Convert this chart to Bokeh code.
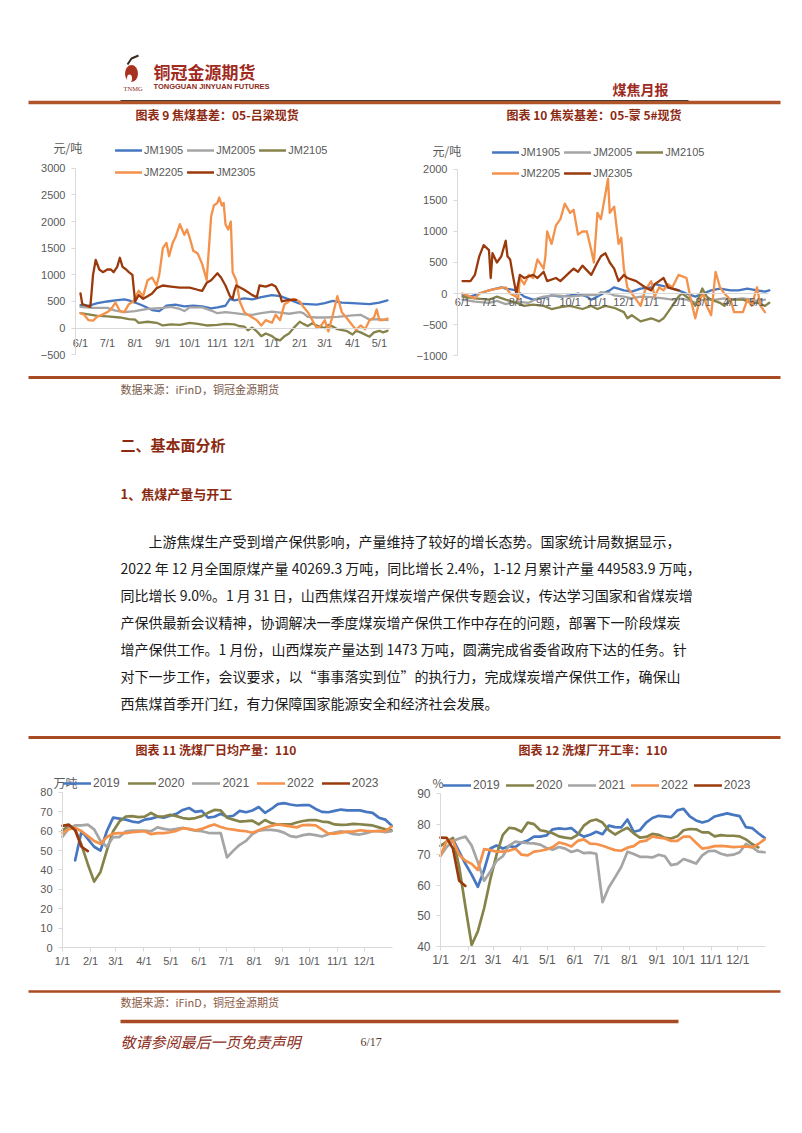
from bokeh.plotting import figure
from bokeh.layouts import column, row
from bokeh.models import Range1d, FixedTicker, Legend, LegendItem, Label, ColumnDataSource
from bokeh.embed import file_html
from bokeh.resources import INLINE

CJK = "Noto Sans CJK SC"
LAT = "Liberation Sans"
SERIF = "Liberation Serif"

# ------------------------------------------------------------------ data
# top charts: x axis runs 6/1 .. mid May (season of the 05 contract)
TOP_TICK_LABELS = ["6/1", "7/1", "8/1", "9/1", "10/1", "11/1", "12/1", "1/1", "2/1", "3/1", "4/1", "5/1"]
TOP_SERIES = ["JM1905", "JM2005", "JM2105", "JM2205", "JM2305"]

# 图表 9 焦煤基差：05-吕梁现货
C9_JM1905_D = ["6/1", "6/10", "6/20", "7/1", "7/10", "7/20", "7/25", "8/1", "8/10", "8/20", "8/28", "9/5", "9/15", "9/25", "10/5", "10/15", "10/25", "11/1", "11/10", "11/15", "11/20", "12/1", "12/10", "12/20", "1/1", "1/10", "1/20", "2/1", "2/10", "2/20", "3/1", "3/10", "3/20", "4/1", "4/10", "4/20", "5/1", "5/10"]
C9_JM1905_V = [430, 420, 470, 500, 520, 540, 520, 480, 420, 340, 320, 420, 440, 410, 420, 410, 370, 390, 420, 550, 520, 560, 540, 580, 620, 600, 540, 460, 450, 440, 470, 510, 480, 470, 460, 450, 480, 520]
C9_JM2005_D = ["6/1", "6/15", "7/1", "7/10", "7/20", "8/1", "8/15", "9/1", "9/10", "9/20", "9/25", "10/1", "10/15", "10/25", "11/1", "11/10", "11/20", "12/1", "12/10", "12/20", "1/1", "1/10", "1/20", "2/1", "2/5", "2/10", "2/20", "3/1", "3/15", "4/1", "4/10", "4/20", "5/1", "5/10"]
C9_JM2005_V = [400, 380, 380, 330, 300, 320, 360, 380, 400, 360, 320, 390, 390, 330, 280, 300, 280, 260, 250, 280, 310, 290, 270, 300, 280, 210, 200, 200, 210, 240, 250, 160, 170, 150]
C9_JM2105_D = ["6/1", "6/10", "6/20", "7/1", "7/15", "7/25", "8/1", "8/5", "8/15", "8/25", "9/1", "9/10", "9/20", "10/1", "10/10", "10/20", "11/1", "11/10", "11/20", "11/25", "12/1", "12/5", "12/10", "12/15", "12/20", "12/25", "1/1", "1/5", "1/10", "1/15", "1/20", "1/25", "2/1", "2/5", "2/10", "2/15", "2/20", "3/1", "3/5", "3/10", "3/15", "3/25", "4/1", "4/5", "4/10", "4/20", "4/25", "5/1", "5/5", "5/10"]
C9_JM2105_V = [280, 260, 230, 220, 200, 170, 160, 100, 120, 100, 50, 70, 60, 100, 80, 50, 60, 80, 70, 40, 30, -40, 10, -60, -150, -100, -150, -200, -230, -150, -100, 0, 120, 80, 40, 90, 50, 0, 60, 30, -20, -50, -120, -50, -80, -160, -80, -50, -80, -50]
C9_JM2205_D = ["6/1", "6/5", "6/10", "6/15", "6/20", "6/25", "7/1", "7/5", "7/10", "7/15", "7/20", "7/25", "7/30", "8/5", "8/10", "8/15", "8/20", "8/25", "8/28", "9/1", "9/5", "9/8", "9/12", "9/15", "9/20", "9/25", "9/28", "10/1", "10/5", "10/10", "10/15", "10/20", "10/25", "10/28", "11/1", "11/3", "11/6", "11/8", "11/10", "11/13", "11/16", "11/18", "11/22", "11/26", "12/1", "12/5", "12/10", "12/15", "12/20", "12/25", "1/1", "1/5", "1/10", "1/15", "1/20", "1/25", "2/1", "2/5", "2/10", "2/15", "2/20", "2/25", "3/1", "3/5", "3/10", "3/15", "3/20", "3/25", "4/1", "4/5", "4/10", "4/15", "4/20", "4/25", "4/28", "5/1", "5/5", "5/10"]
C9_JM2205_V = [280, 250, 150, 140, 220, 250, 300, 350, 480, 320, 300, 450, 500, 700, 600, 900, 950, 800, 1000, 1500, 1600, 1350, 1600, 1700, 1950, 1750, 1850, 1700, 1450, 1400, 1200, 900, 2100, 2300, 2350, 2450, 2300, 2350, 1950, 1850, 2000, 1050, 900, 500, 300, 250, 200, 150, 50, 150, 100, 250, 150, 450, 500, 550, 500, 400, 300, 150, 0, 50, 150, -60, 250, 600, 300, 200, 50, -30, 50, -20, 150, 200, 350, 150, 150, 180]
C9_JM2305_D = ["6/1", "6/3", "6/8", "6/12", "6/15", "6/18", "6/22", "6/26", "7/1", "7/5", "7/8", "7/12", "7/15", "7/18", "7/22", "7/25", "7/29", "8/1", "8/5", "8/10", "8/15", "8/20", "8/25", "9/1", "9/10", "9/20", "10/1", "10/10", "10/15", "10/20", "10/25", "11/1", "11/5", "11/10", "11/15", "11/18", "11/20", "11/22", "12/1", "12/10", "12/15", "12/18", "12/25", "1/1", "1/5", "1/10", "1/12", "1/20", "1/28"]
C9_JM2305_V = [650, 450, 420, 400, 1000, 1280, 1100, 1050, 1100, 1100, 1050, 1150, 1320, 1150, 1100, 1050, 1000, 500, 620, 550, 600, 650, 750, 800, 780, 760, 760, 720, 700, 850, 900, 1030, 950, 800, 600, 550, 700, 800, 720, 620, 580, 800, 780, 820, 780, 620, 500, 530, 530]

# 图表 10 焦炭基差：05-蒙 5#现货
C10_JM1905_D = ["6/1", "6/10", "6/20", "7/1", "7/15", "7/20", "8/1", "8/10", "8/20", "9/1", "9/10", "9/20", "10/1", "10/10", "10/20", "10/25", "11/1", "11/10", "11/15", "11/20", "12/1", "12/10", "12/20", "1/1", "1/5", "1/15", "1/25", "2/1", "2/10", "2/20", "3/1", "3/10", "3/20", "4/1", "4/10", "4/20", "5/1", "5/10", "5/15"]
C10_JM1905_V = [-20, -50, 0, 50, 100, 80, 50, -50, -100, -70, -30, -50, -30, 0, -50, -100, -50, 20, 50, 100, 50, 30, 80, 100, 150, 120, 80, 50, 0, -50, 0, 50, 80, 50, 50, 80, 50, 30, 50]
C10_JM2005_D = ["6/1", "6/15", "7/1", "7/10", "7/20", "8/1", "8/15", "8/25", "9/1", "9/15", "10/1", "10/15", "11/1", "11/5", "11/15", "11/20", "12/1", "12/10", "12/20", "1/1", "1/15", "1/25", "2/1", "2/10", "2/20", "3/1", "3/15", "3/25", "4/1", "4/15", "4/25", "5/1", "5/10"]
C10_JM2005_V = [-100, -130, -150, -120, -170, -130, -150, -80, -50, -30, -50, -30, -20, 20, 0, -30, -50, -80, -50, -60, -80, -100, -80, -100, -150, -100, -100, -80, -100, -80, -100, -120, -100]
C10_JM2105_D = ["6/1", "6/15", "7/1", "7/10", "7/20", "8/1", "8/10", "8/20", "9/1", "9/10", "9/20", "10/1", "10/15", "10/25", "11/1", "11/10", "11/20", "12/1", "12/5", "12/10", "12/20", "1/1", "1/10", "1/15", "1/20", "1/25", "2/1", "2/5", "2/15", "2/20", "2/28", "3/5", "3/10", "3/20", "3/25", "4/1", "4/15", "4/25", "5/1", "5/10", "5/15"]
C10_JM2105_V = [-50, -80, -100, -50, -100, -150, -200, -180, -200, -250, -220, -200, -250, -200, -250, -200, -230, -300, -400, -350, -450, -400, -450, -400, -300, -200, -50, 0, -100, -200, 80, -50, -100, -150, -200, -100, -100, -150, -150, -200, -150]
C10_JM2205_D = ["6/1", "6/10", "6/15", "6/20", "7/1", "7/10", "7/20", "7/25", "8/1", "8/3", "8/5", "8/10", "8/15", "8/20", "8/25", "9/1", "9/3", "9/5", "9/10", "9/15", "9/20", "9/25", "10/1", "10/5", "10/10", "10/15", "10/20", "10/25", "10/28", "11/1", "11/5", "11/10", "11/13", "11/15", "11/20", "11/25", "11/28", "12/1", "12/5", "12/10", "12/15", "12/20", "12/25", "1/1", "1/5", "1/10", "1/15", "1/20", "1/25", "2/1", "2/10", "2/15", "2/20", "2/25", "3/1", "3/5", "3/10", "3/15", "3/20", "3/25", "4/1", "4/5", "4/15", "4/20", "4/25", "5/1", "5/5", "5/10"]
C10_JM2205_V = [0, -50, -80, 0, 50, 80, 100, 0, -50, -100, 250, 150, 300, 250, 550, 400, 600, 1000, 800, 1100, 1200, 1450, 1300, 1350, 950, 1000, 1000, 700, 500, 1300, 1200, 1600, 1850, 1300, 1400, 800, 900, 400, 100, 0, -100, -200, 50, 200, -50, 100, 50, 150, 100, 300, 250, -100, -400, -100, 0, -200, -350, 350, 100, 0, -100, -300, -300, -100, -200, 100, -200, -300]
C10_JM2305_D = ["6/1", "6/10", "6/15", "6/20", "6/25", "7/1", "7/3", "7/5", "7/10", "7/15", "7/20", "7/22", "7/25", "7/28", "8/1", "8/5", "8/10", "8/20", "8/25", "9/1", "9/5", "9/15", "9/20", "10/1", "10/5", "10/10", "10/15", "10/25", "11/1", "11/5", "11/10", "11/15", "11/20", "11/25", "12/1", "12/5", "12/15", "12/25", "1/1", "1/5", "1/10", "1/15", "1/20", "1/25", "2/1"]
C10_JM2305_V = [200, 200, 300, 600, 780, 700, 250, 650, 500, 600, 850, 600, 550, 300, 0, 300, 250, 300, 250, 350, 200, 250, 200, 350, 400, 350, 450, 300, 500, 600, 650, 500, 400, 200, 300, 250, 200, 100, 50, 150, 200, 250, 100, 80, 50]

# bottom charts: weekly values, week 1 .. week 53 of each year
YEAR_TICK_LABELS = ["1/1", "2/1", "3/1", "4/1", "5/1", "6/1", "7/1", "8/1", "9/1", "10/1", "11/1", "12/1"]
YEARS = ["2019", "2020", "2021", "2022", "2023"]
N = None

# 图表 11 洗煤厂日均产量：110 (万吨)
C11_2019 = [N, N, 45, 60, 56, 52, 50, 60, 67, 66.5, 66, 65, 64.5, 66, 66.5, 67.5, 67, 68, 69, 71, 72, 70, 70.5, 67, 67.5, 69, 67.5, 68, 70.5, 69.8, 70.7, 72.5, 69.5, 71.5, 74, 74.5, 73.8, 73.3, 73.5, 73.5, 71.5, 70, 69.8, 70.5, 71.2, 70.8, 70.8, 70.8, 70, 69.5, 67, 66, 63]
C11_2020 = [60.3, 63, 61, 53, 43, 34, 39, 50, 60, 65, 67.6, 67.8, 67.3, 67.5, 69.5, 67.6, 67.6, 68.5, 67.8, 66.8, 66.4, 66.8, 67.8, 69.5, 71, 70.8, 67, 66, 65, 65.2, 65.5, 63.5, 65.8, 64.2, 63.5, 63.5, 63.5, 64.5, 65.3, 65.7, 65.8, 65, 64.7, 63.5, 63.3, 63.4, 63.8, 63.6, 63.3, 63, 62, 61, 60.5]
C11_2021 = [57.2, 61.5, 63, 63, 63.4, 61, 55, 52, 57, 57, 60, 60.3, 60.3, 60.3, 60, 62, 61.2, 60.7, 61.2, 61.8, 61, 60.3, 60, 59.2, 59, 59, 46.5, 50, 53, 55, 58.5, 60.3, 60.7, 60.7, 60.3, 59.3, 57.5, 57, 58, 58.5, 58, 57.3, 58.5, 59.3, 60, 59.5, 58.5, 58.3, 59, 60, 60, 59.5, 60]
C11_2022 = [59, 61, 61.8, 60, 57.5, 55, 53.5, 57, 58.8, 59, 59, 59.5, 59.8, 60, 58.5, 59, 59, 59.5, 60.2, 61.5, 61.2, 60.5, 61.2, 62.5, 63.5, 62.2, 61.3, 60.8, 60.3, 60, 59.2, 60.5, 61.8, 62.8, 63.6, 63, 62.5, 62, 63.2, 63.3, 63, 61, 58.8, 58.8, 59.3, 59.8, 59.8, 60.5, 60.2, 60, 60.2, 60, 62.4]
C11_2023 = [62.8, 63.4, 60.5, 52, 49.8] + [N] * 48

# 图表 12 洗煤厂开工率：110 (%)
C12_2019 = [N, N, 75, 71, 67, 63.5, 59.5, 65, 72, 73, 72, 72.8, 72.5, 74, 74.6, 75.9, 75.9, 76.3, 78.3, 78.6, 78.4, 78.7, 77, 75.9, 76.5, 77.5, 76.7, 79.5, 79, 78.9, 81.5, 77.5, 78, 80.5, 82, 82.7, 82.5, 82.3, 84.5, 85, 82.5, 81.2, 80.5, 81.1, 82.5, 83, 83.5, 83, 82.6, 79, 78.7, 77, 75.5]
C12_2020 = [72.9, 74.3, 75.5, 66, 53, 40.5, 45, 52.5, 62, 70, 76.5, 78.8, 78.5, 77.5, 80.5, 80, 78, 77.6, 77, 76, 75.6, 75.3, 76.5, 79.5, 81, 81.5, 80.5, 78, 76.6, 77.8, 78.8, 77, 75.6, 75.8, 76.8, 76.5, 75.5, 75.3, 76, 78, 78.4, 78.3, 77.3, 77.3, 76, 76.4, 76.2, 76.2, 76, 75, 73.5, 72.4, N]
C12_2021 = [69.7, 72.5, 74.5, 75.3, 75.9, 73, 67.5, 61.5, 64.5, 68, 69.5, 73, 74.3, 74, 73.8, 73.7, 73.3, 72.2, 71.6, 72.5, 72, 70.9, 71.5, 70.5, 70.7, 70.3, 54.5, 59.3, 62.6, 66, 71, 70.2, 69.3, 69.3, 69.1, 70, 69.5, 66.6, 67, 68.6, 67.9, 67.1, 69.8, 71.2, 71.3, 70.3, 69.8, 70, 70.8, 73.5, 72.5, 71, 70.8]
C12_2022 = [69.7, 74.5, 74.5, 70, 68, 67, 65, 71.8, 71.5, 71, 71, 71.3, 72, 70, 69.8, 71, 71.3, 71.7, 72.5, 74, 73.5, 72.7, 74.5, 75, 73.6, 73.5, 72.9, 72.2, 71.5, 71.3, 72.3, 72.8, 74.3, 74.6, 76, 75.6, 75.3, 74.5, 74.5, 75.9, 75.9, 73.9, 72, 72.3, 72.8, 72.9, 72.7, 72.5, 72.6, 72.7, 72.4, 73.5, 75]
C12_2023 = [75.6, 75.5, 72, 61.5, 59.8] + [N] * 48

# ------------------------------------------------------------------ styles
BLUE, GRAY, OLIVE, ORANGE, BROWN = "#4677C0", "#A5A5A5", "#86834A", "#F4914A", "#9A3A0C"
TOP_COLORS = [BLUE, GRAY, OLIVE, ORANGE, BROWN]
YEAR_COLORS = [BLUE, OLIVE, GRAY, ORANGE, BROWN]
AX_COLOR = "#D9D9D9"
LBL_COLOR = "#595959"
RED = "#8E2A12"
RULE = "#B0552A"

TOP_OFFSET = {6: 0, 7: 30, 8: 61, 9: 92, 10: 122, 11: 153, 12: 183, 1: 214, 2: 245, 3: 273, 4: 304, 5: 334}
YEAR_OFFSET = {1: 0, 2: 31, 3: 59, 4: 90, 5: 120, 6: 151, 7: 181, 8: 212, 9: 243, 10: 273, 11: 304, 12: 334}


def top_day(s):
    m, d = s.split("/")
    return TOP_OFFSET[int(m)] + int(d) - 1


def year_day(s):
    m, d = s.split("/")
    return YEAR_OFFSET[int(m)] + int(d) - 1


def nanify(vals):
    return [float("nan") if v is None else v for v in vals]


def base_fig(w, h, xr, yr):
    # the frame fills the whole figure; axes are pinned inside it with fixed_location
    p = figure(width=w, height=h, x_range=Range1d(*xr), y_range=Range1d(*yr),
               output_backend="svg", toolbar_location=None, title=None, min_border=0,
               outline_line_color=None, background_fill_color="white", border_fill_color="white")
    p.grid.visible = False
    return p


def style_axes(p, xticks, xlabels, yticks, font_size, x_tick_out, x_standoff, x_at, y_at, x_bounds, y_bounds):
    p.xaxis.ticker = FixedTicker(ticks=xticks)
    p.xaxis.major_label_overrides = {t: l for t, l in zip(xticks, xlabels)}
    p.yaxis.ticker = FixedTicker(ticks=yticks)
    for ax in (p.xaxis[0], p.yaxis[0]):
        ax.axis_line_color = AX_COLOR
        ax.major_tick_line_color = AX_COLOR
        ax.minor_tick_line_color = None
        ax.major_tick_in = 0
        ax.major_label_text_font = LAT
        ax.major_label_text_font_size = font_size
        ax.major_label_text_color = LBL_COLOR
    p.yaxis.major_tick_out = 4
    p.yaxis.major_label_standoff = 6
    p.xaxis.major_tick_out = x_tick_out
    p.xaxis.major_label_standoff = x_standoff
    p.xaxis.fixed_location = x_at
    p.yaxis.fixed_location = y_at
    p.xaxis.bounds = x_bounds
    p.yaxis.bounds = y_bounds


def legend(p, items, loc, font_size, glyph_width, spacing):
    # loc = bottom-left corner of the legend box, in px from the frame's bottom-left
    lg = Legend(items=items, location=loc, orientation="horizontal",
                glyph_width=glyph_width, glyph_height=14, label_height=14,
                label_standoff=2, spacing=spacing, padding=0, margin=0,
                border_line_alpha=0, background_fill_alpha=0,
                label_text_font=LAT, label_text_font_size=font_size,
                label_text_color=LBL_COLOR)
    p.add_layout(lg)


def unit_label(p, text, x, y):
    p.add_layout(Label(x=x, y=y, text=text,
                       text_font=CJK, text_font_size="12px", text_color=LBL_COLOR,
                       text_baseline="middle"))


def basis_chart(xr, yr, yticks, x_bounds, y_bounds, dates, vals, leg_rows, unit_xy, x_standoff):
    p = base_fig(401, 230, xr, yr)
    renderers = []
    for name, d, v, c in zip(TOP_SERIES, dates, vals, TOP_COLORS):
        src = ColumnDataSource(dict(x=[top_day(s) for s in d], y=v))
        r = p.line("x", "y", source=src, line_color=c, line_width=2.3,
                   line_join="round", line_cap="round")
        renderers.append((name, r))
    style_axes(p, [top_day(s) for s in TOP_TICK_LABELS], TOP_TICK_LABELS, yticks, "11px", 0, x_standoff,
               0, x_bounds[0], x_bounds, y_bounds)
    items = [LegendItem(label=n, renderers=[r]) for n, r in renderers]
    legend(p, items[:3], leg_rows[0], "11px", 27, 4)
    legend(p, items[3:], leg_rows[1], "11px", 27, 4)
    unit_label(p, "元/吨", *unit_xy)
    return p


def season_chart(xr, yr, yticks, y_bounds, series, leg_loc, unit, unit_xy, font_size, spacing):
    p = base_fig(401, 205, xr, yr)
    items = []
    for name, v, c in zip(YEARS, series, YEAR_COLORS):
        src = ColumnDataSource(dict(x=[7 * i for i in range(len(v))], y=nanify(v)))
        r = p.line("x", "y", source=src, line_color=c, line_width=2.7,
                   line_join="round", line_cap="round")
        items.append(LegendItem(label=name, renderers=[r]))
    style_axes(p, [year_day(s) for s in YEAR_TICK_LABELS], YEAR_TICK_LABELS, yticks, font_size, 4, 3,
               y_bounds[0], 0, (0, 365), y_bounds)
    legend(p, items, leg_loc, "12px", 28, spacing)
    unit_label(p, unit, *unit_xy)
    return p


c9 = basis_chart((-89.4, 358.7), (-794.5, 3519.6), [-500, 0, 500, 1000, 1500, 2000, 2500, 3000],
                 (-5.6, 346.4), (-500, 3000),
                 [C9_JM1905_D, C9_JM2005_D, C9_JM2105_D, C9_JM2205_D, C9_JM2305_D],
                 [C9_JM1905_V, C9_JM2005_V, C9_JM2105_V, C9_JM2205_V, C9_JM2305_V],
                 [(115, 213), (115, 191)], (-30.2, 3388), 9)
c10 = basis_chart((-69.2, 385.6), (-1241.9, 2467.7), [-1000, -500, 0, 500, 1000, 1500, 2000],
                  (-5.7, 347), (-1000, 2000),
                  [C10_JM1905_D, C10_JM2005_D, C10_JM2105_D, C10_JM2205_D, C10_JM2305_D],
                  [C10_JM1905_V, C10_JM2005_V, C10_JM2105_V, C10_JM2205_V, C10_JM2305_V],
                  [(91, 211), (91, 190)], (-34, 2306), 2)
c11 = season_chart((-68.6, 375), (-14.45, 91.35), [0, 10, 20, 30, 40, 50, 60, 70, 80], (0, 80),
                   [C11_2019, C11_2020, C11_2021, C11_2022, C11_2023],
                   (63, 185), "万吨", (-10, 85.2), "11px", 8)
c12 = season_chart((-43.8, 406.6), (30.52, 97.52), [40, 50, 60, 70, 80, 90], (40, 90),
                   [C12_2019, C12_2020, C12_2021, C12_2022, C12_2023],
                   (42, 183), "%", (-9, 93.6), "12px", 6)


# ------------------------------------------------------------------ page bands
def band(h):
    p = figure(width=802, height=h, x_range=Range1d(0, 802), y_range=Range1d(h, 0),
               output_backend="svg", toolbar_location=None, min_border=0,
               x_axis_type=None, y_axis_type=None, outline_line_color=None,
               border_fill_color="white", background_fill_color="white")
    return p


def txt(p, top, x, y, text, size, color, font=CJK, style="normal"):
    p.add_layout(Label(x=x, y=y - top, text=text, text_font=font,
                       text_font_size=f"{size}px", text_color=color,
                       text_font_style=style, text_baseline="middle"))


def rule(p, top, x0, x1, y, width, color):
    p.segment(x0=[x0], y0=[y - top], x1=[x1], y1=[y - top], line_width=width, line_color=color)


# header band (page y 0..140)
hA = band(140)
# small emblem next to the company name
hA.ellipse(x=[131], y=[73], width=13, height=17, fill_color="#A8321F", line_color=None)
hA.line(x=[127, 131, 138], y=[64, 58, 55], line_color="#3A2A22", line_width=2)
hA.ellipse(x=[129], y=[78], width=5, height=8, fill_color="white", line_color=None)
txt(hA, 0, 153, 71, "铜冠金源期货", 17, "#A02A1E", style="bold")
txt(hA, 0, 153, 86, "TONGGUAN JINYUAN FUTURES", 7.5, "#8B2A1A", font=LAT, style="bold")
txt(hA, 0, 123, 88, "TNMG", 6.5, "#8B2A1A", font=SERIF)
txt(hA, 0, 612, 88, "煤焦月报", 14, "#9C2A1E", style="bold")
rule(hA, 0, 28, 780, 102, 3.5, RULE)
rule(hA, 0, 120, 688, 100, 1.2, "#4A3A32")
txt(hA, 0, 135, 114, "图表 9 焦煤基差：05-吕梁现货", 12, RED, style="bold")
txt(hA, 0, 506, 114, "图表 10 焦炭基差：05-蒙 5#现货", 12, RED, style="bold")

# middle band (page y 370..770)
TOPC = 370
hC = band(400)
rule(hC, TOPC, 28, 780, 377, 3, "#A84A22")
txt(hC, TOPC, 120, 388, "数据来源：iFinD，铜冠金源期货", 11, "#7A5A4A")
txt(hC, TOPC, 120, 444, "二、基本面分析", 15, "#8B2A10", style="bold")
txt(hC, TOPC, 120, 493, "1、焦煤产量与开工", 13, "#8B2A10", style="bold")
PARA = [
    "上游焦煤生产受到增产保供影响，产量维持了较好的增长态势。国家统计局数据显示，",
    "2022 年 12 月全国原煤产量 40269.3 万吨，同比增长 2.4%，1-12  月累计产量 449583.9 万吨，",
    "同比增长 9.0%。1 月 31 日，山西焦煤召开煤炭增产保供专题会议，传达学习国家和省煤炭增",
    "产保供最新会议精神，协调解决一季度煤炭增产保供工作中存在的问题，部署下一阶段煤炭",
    "增产保供工作。1 月份，山西煤炭产量达到 1473 万吨，圆满完成省委省政府下达的任务。针",
    "对下一步工作，会议要求，以“事事落实到位”的执行力，完成煤炭增产保供工作，确保山",
    "西焦煤首季开门红，有力保障国家能源安全和经济社会发展。",
]
for i, line in enumerate(PARA):
    txt(hC, TOPC, 148 if i == 0 else 120, 540 + 27 * i, line, 14, "#1A1A1A")
rule(hC, TOPC, 28, 780, 737, 3, "#A84A22")
txt(hC, TOPC, 135, 749, "图表 11 洗煤厂日均产量：110", 12, RED, style="bold")
txt(hC, TOPC, 518, 749, "图表 12 洗煤厂开工率：110", 12, RED, style="bold")

# footer band (page y 975..1133)
TOPE = 975
hE = band(158)
rule(hE, TOPE, 28, 780, 991, 2.5, "#A84A22")
txt(hE, TOPE, 120, 1001, "数据来源：iFinD，铜冠金源期货", 11, "#8B5A44")
rule(hE, TOPE, 120, 678, 1021, 3.5, "#A84A22")
txt(hE, TOPE, 120, 1041, "敬请参阅最后一页免责声明", 15, "#8B2D1A", style="italic")
txt(hE, TOPE, 360, 1041, "6/17", 12, "#5A3A2A", font=SERIF)

page = column(hA, row(c9, c10, spacing=0), hC, row(c11, c12, spacing=0), hE, spacing=0)

open("out.html", "w").write(file_html(page, INLINE))
